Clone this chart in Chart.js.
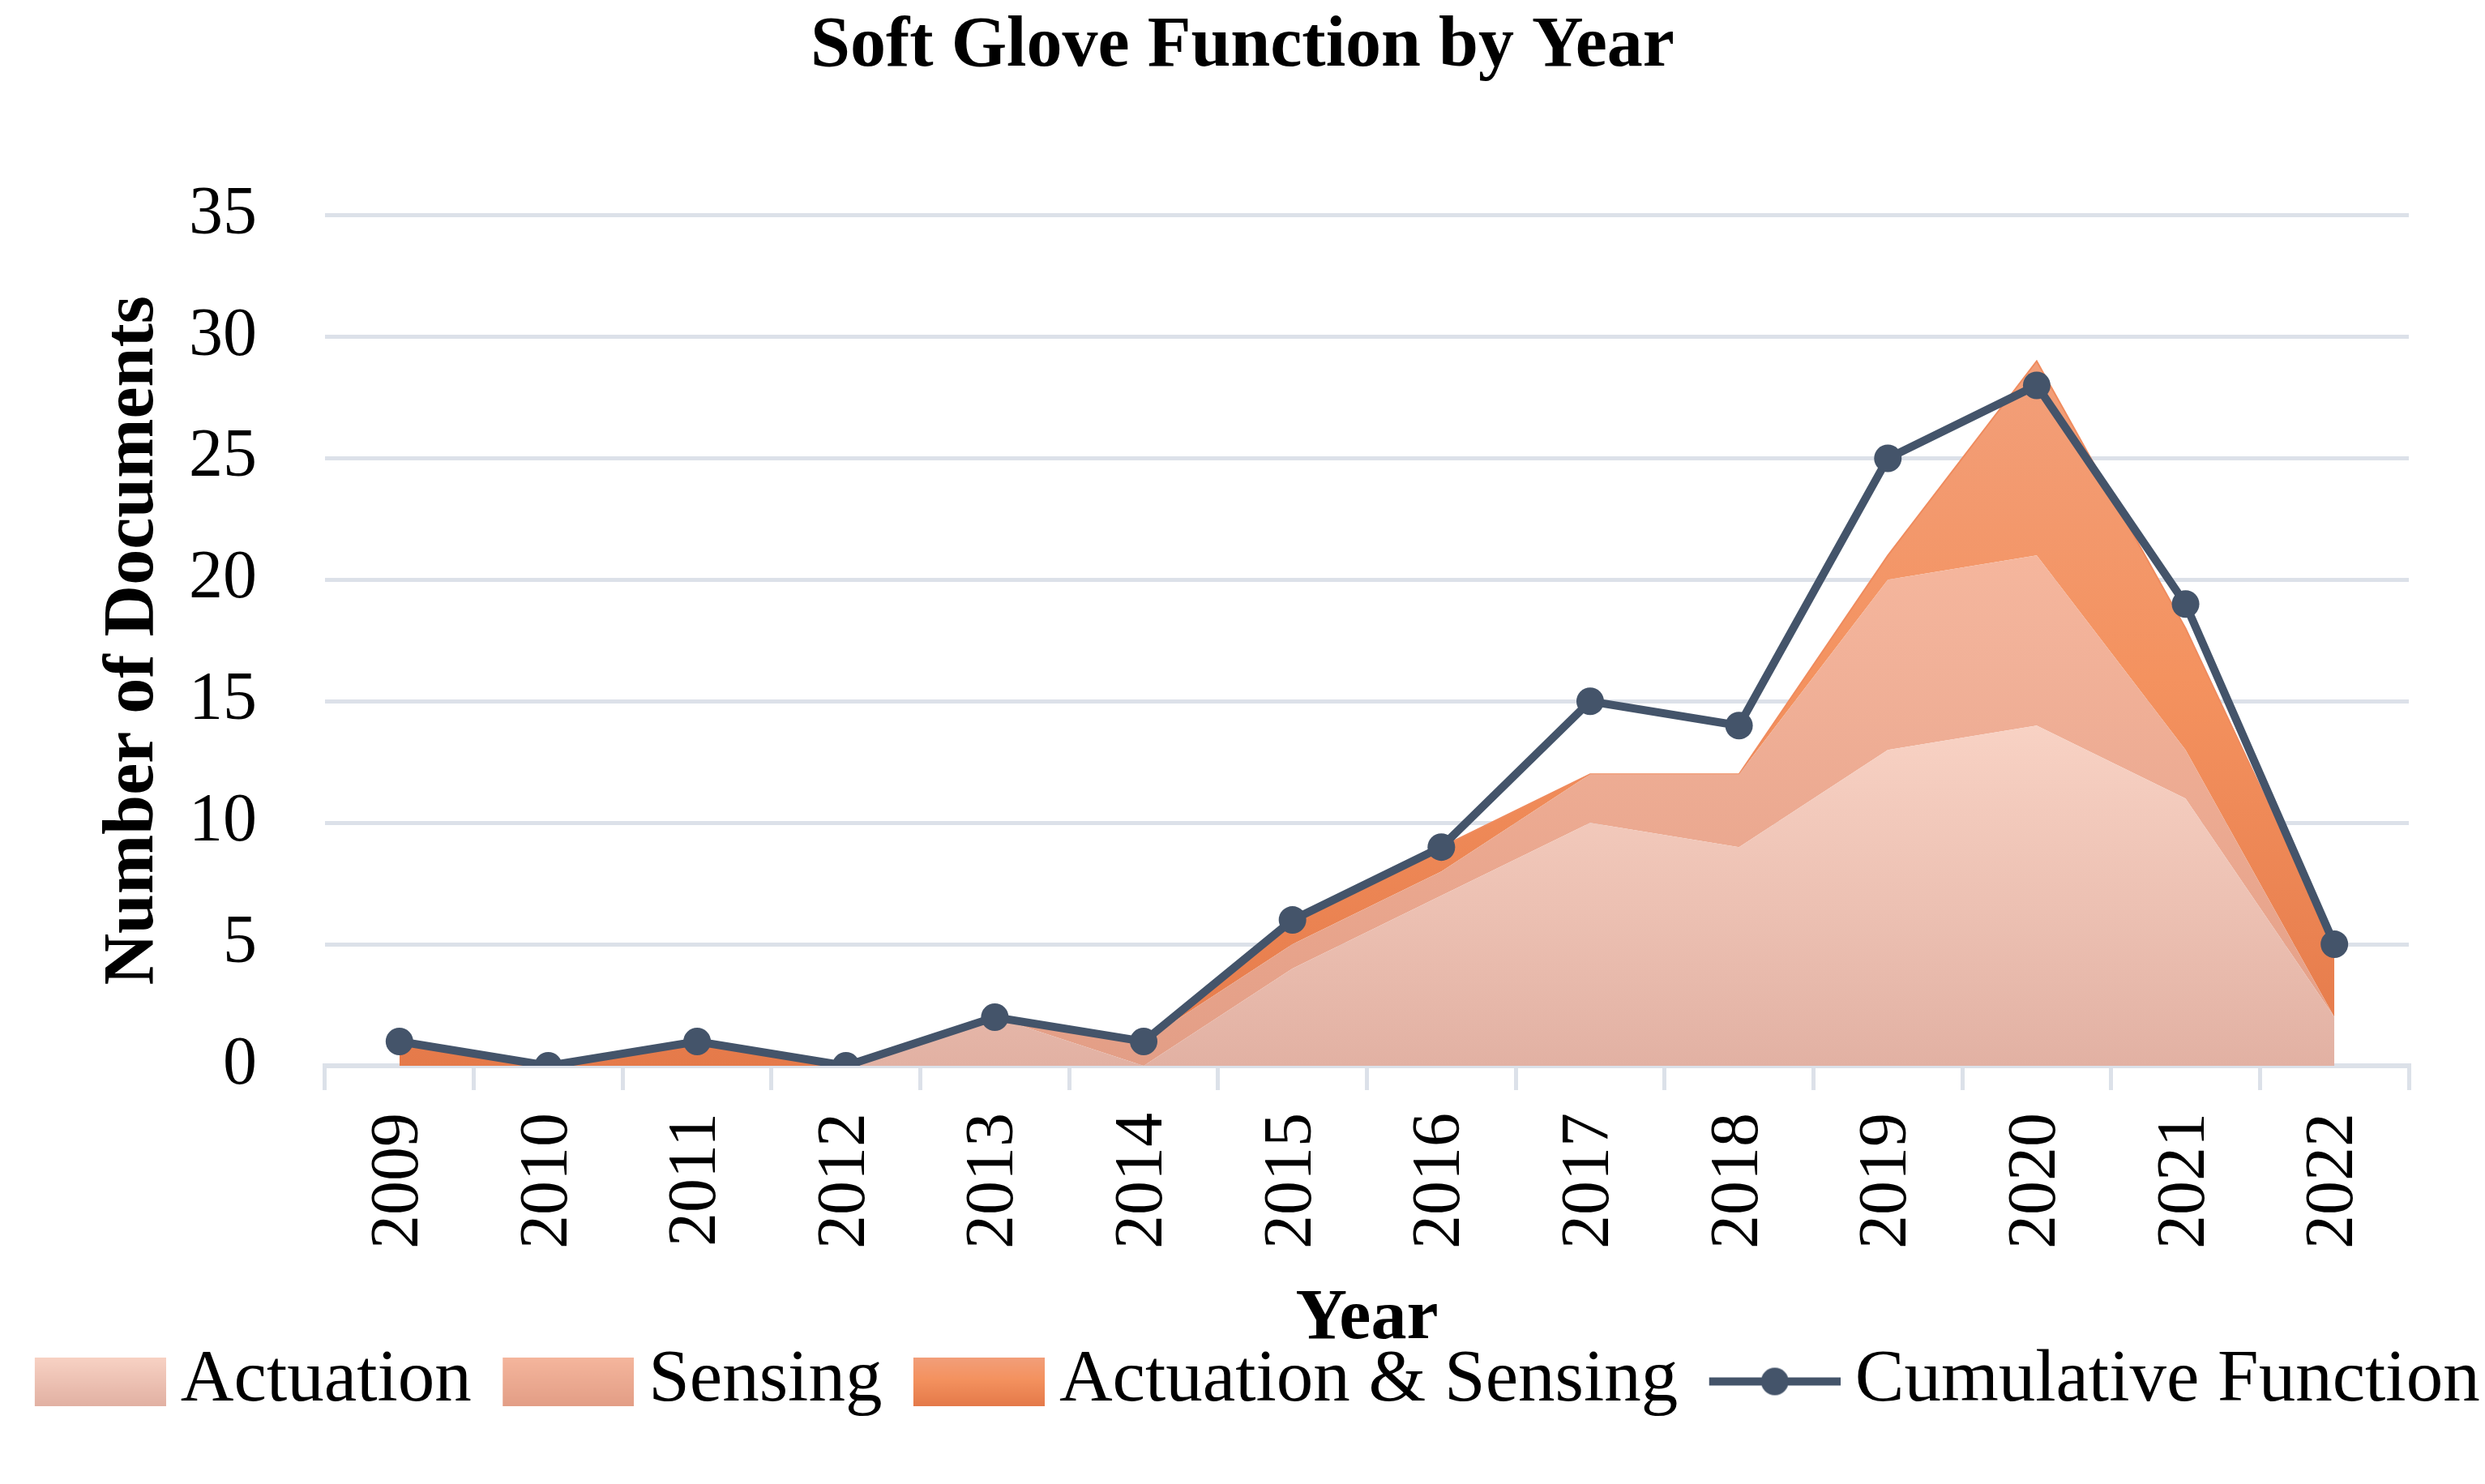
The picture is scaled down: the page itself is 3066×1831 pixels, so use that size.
<!DOCTYPE html>
<html>
<head>
<meta charset="utf-8">
<script src="https://cdn.jsdelivr.net/npm/chart.js@4/dist/chart.umd.min.js"></script>
<style>
html,body{margin:0;padding:0;background:#ffffff;}
#wrap{width:3066px;height:1831px;position:relative;}
</style>
</head>
<body>
<div id="wrap"><canvas id="c"></canvas></div>
<script>
// ---- data ----
const years = ['2009','2010','2011','2012','2013','2014','2015','2016','2017','2018','2019','2020','2021','2022'];
const actuation        = [0, 0, 0, 0, 2, 0, 4, 7, 10, 9, 13, 14, 11, 2];
const sensing          = [0, 0, 0, 0, 0, 1, 1, 1, 2, 3, 7, 7, 2, 0];
const actuationSensing = [1, 0, 1, 0, 0, 0, 1, 1, 0, 0, 1, 8, 5, 3];
const cumulative       = [1, 0, 1, 0, 2, 1, 6, 9, 15, 14, 25, 28, 19, 5];
const yTicks = [0, 5, 10, 15, 20, 25, 30, 35];
const seriesNames = ['Actuation', 'Sensing', 'Actuation & Sensing', 'Cumulative Function'];

// ---- styles ----
const FONT = 'Liberation Serif';
const GRID = '#DCE1E9';
const LINE = '#44546A';
const stopsAct  = [[0, '#F8D2C4'], [1, '#E2B1A3']];
const stopsSens = [[0, '#F5B69D'], [1, '#E39E86']];
const stopsBoth = [[0, '#F29F7A'], [0.45, '#F4925F'], [1, '#E57A4A']];

const top1 = Math.max(...actuation);
const top2 = Math.max(...actuation.map((v, i) => v + sensing[i]));
const top3 = Math.max(...actuation.map((v, i) => v + sensing[i] + actuationSensing[i]));

function areaFill(stops, topVal) {
  return (context) => {
    const chart = context.chart;
    const {ctx, chartArea, scales} = chart;
    if (!chartArea || !scales.y) return stops[0][1];
    const yb = scales.y.getPixelForValue(0);
    const yt = scales.y.getPixelForValue(topVal);
    const g = ctx.createLinearGradient(0, yt, 0, yb);
    stops.forEach(([o, c]) => g.addColorStop(o, c));
    return g;
  };
}

function swatch(stops) {
  const c = document.createElement('canvas');
  c.width = 226; c.height = 60;
  const x = c.getContext('2d');
  const g = x.createLinearGradient(0, 0, 0, 60);
  stops.forEach(([o, col]) => g.addColorStop(o, col));
  x.fillStyle = g;
  x.fillRect(64, 0, 162, 60);
  return c;
}
function lineSwatch() {
  const c = document.createElement('canvas');
  c.width = 226; c.height = 60;
  const x = c.getContext('2d');
  x.strokeStyle = LINE; x.lineWidth = 10;
  x.beginPath(); x.moveTo(64, 30); x.lineTo(226, 30); x.stroke();
  x.fillStyle = LINE;
  x.beginPath(); x.arc(145, 30, 17, 0, Math.PI * 2); x.fill();
  return c;
}
const legendImages = [swatch(stopsAct), swatch(stopsSens), swatch(stopsBoth), lineSwatch()];

Chart.defaults.font.family = FONT;
Chart.defaults.color = '#000000';

new Chart(document.getElementById('c'), {
  type: 'line',
  data: {
    labels: years,
    datasets: [
      {
        label: seriesNames[0], data: actuation, stack: 'area',
        fill: 'origin', backgroundColor: areaFill(stopsAct, top1),
        borderWidth: 0, pointRadius: 0, tension: 0
      },
      {
        label: seriesNames[1], data: sensing, stack: 'area',
        fill: '-1', backgroundColor: areaFill(stopsSens, top2),
        borderWidth: 0, pointRadius: 0, tension: 0
      },
      {
        label: seriesNames[2], data: actuationSensing, stack: 'area',
        fill: '-1', backgroundColor: areaFill(stopsBoth, top3),
        borderColor: '#EF8B5E', borderWidth: 2, pointRadius: 0, tension: 0
      },
      {
        label: seriesNames[3], data: cumulative, stack: 'cum', order: -1,
        fill: false, borderColor: LINE, backgroundColor: LINE, borderWidth: 10,
        pointRadius: 17, pointHoverRadius: 17, pointBackgroundColor: LINE, pointBorderWidth: 0, tension: 0
      }
    ]
  },
  options: {
    responsive: true,
    maintainAspectRatio: false,
    animation: false,
    devicePixelRatio: 1,
    layout: { padding: { top: 0, left: 0, right: 0, bottom: 71 } },
    plugins: {
      title: {
        display: true, text: 'Soft Glove Function by Year', color: '#000',
        font: { family: FONT, size: 88, weight: 'bold' },
        padding: { top: 5, bottom: 155 }
      },
      legend: {
        position: 'bottom', align: 'center',
        labels: {
          usePointStyle: true, pointStyleWidth: 171, padding: 2,
          color: '#000', font: { family: FONT, size: 91 },
          sort: (a, b) => a.datasetIndex - b.datasetIndex,
          generateLabels: (chart) => Chart.defaults.plugins.legend.labels.generateLabels(chart)
            .map(l => Object.assign(l, { pointStyle: legendImages[l.datasetIndex] }))
        }
      },
      tooltip: { enabled: false }
    },
    scales: {
      x: {
        type: 'category', offset: true,
        grid: { display: true, offset: true, drawOnChartArea: false, drawTicks: true, tickLength: 30, color: GRID, lineWidth: 5 },
        border: { display: true, color: GRID, width: 6 },
        ticks: { minRotation: 90, maxRotation: 90, autoSkip: false, padding: 28, color: '#000', font: { family: FONT, size: 84 } },
        title: { display: true, text: 'Year', color: '#000', font: { family: FONT, size: 88, weight: 'bold', lineHeight: 0.6 }, padding: { top: 32, bottom: 2.6 } },
        afterFit: (s) => { s.height = 342; }
      },
      y: {
        stacked: true, min: 0, max: 35,
        afterBuildTicks: (s) => { s.ticks = yTicks.map(v => ({ value: v })); },
        grid: { color: GRID, lineWidth: 5, drawTicks: false },
        border: { display: false },
        ticks: { padding: 84, color: '#000', font: { family: FONT, size: 84 } },
        title: { display: true, text: 'Number of Documents', color: '#000', font: { family: FONT, size: 88, weight: 'bold' }, padding: { top: 112, bottom: 0 } },
        afterFit: (s) => { s.width = 401; }
      },
      yR: {
        type: 'linear', position: 'right', display: true,
        grid: { display: false }, ticks: { display: false }, border: { display: false },
        afterFit: (s) => { s.width = 94; }
      }
    }
  }
});
</script>
</body>
</html>
